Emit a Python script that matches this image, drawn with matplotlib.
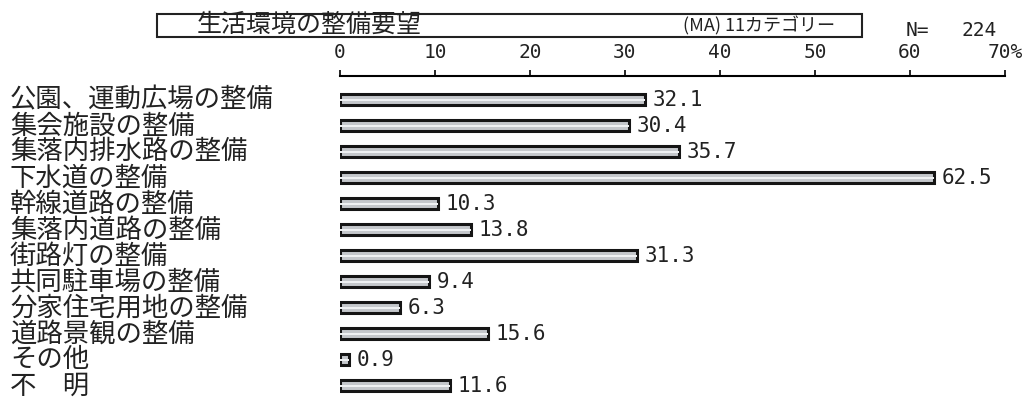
import matplotlib
matplotlib.use('Agg')
import matplotlib.pyplot as plt
from matplotlib.patches import Rectangle
from matplotlib.transforms import blended_transform_factory

plt.rcParams['font.family'] = ['Noto Sans CJK JP', 'DejaVu Sans']

categories = ['公園、運動広場の整備', '集会施設の整備', '集落内排水路の整備', '下水道の整備',
              '幹線道路の整備', '集落内道路の整備', '街路灯の整備', '共同駐車場の整備',
              '分家住宅用地の整備', '道路景観の整備', 'その他', '不　明']
values = [32.1, 30.4, 35.7, 62.5, 10.3, 13.8, 31.3, 9.4, 6.3, 15.6, 0.9, 11.6]
xticks = [0, 10, 20, 30, 40, 50, 60, 70]
xticklabels = ['0', '10', '20', '30', '40', '50', '60', '70%']

W, H = 1031, 401
fig = plt.figure(figsize=(W / 100, H / 100), dpi=100)

# axes: x=0 at px 340, x=70 at px 1005; top line at y=76
ax = fig.add_axes([340 / W, 1 - 400 / H, 665 / W, 324 / H])
ax.set_xlim(0, 70)
ax.set_ylim(11.54, -0.92)

rows = list(range(len(values)))
ax.barh(rows, values, height=0.42, color='#c4c7cb', edgecolor='#151515', linewidth=2.2)
ax.barh(rows, values, height=0.09, color='#eef0f2', linewidth=0)

for i, v in enumerate(values):
    ax.text(v + 0.8, i, f'{v:.1f}', va='center', ha='left', fontsize=15,
            family='DejaVu Sans Mono', color='#222')

for s in ['right', 'bottom', 'left']:
    ax.spines[s].set_visible(False)
ax.spines['top'].set_linewidth(1.5)
ax.xaxis.tick_top()
ax.set_xticks(xticks)
ax.set_xticklabels(xticklabels, family='DejaVu Sans Mono', fontsize=14, color='#222')
ax.tick_params(axis='x', direction='out', length=4, width=1.2, pad=6)
ax.set_yticks([])

trans = blended_transform_factory(fig.transFigure, ax.transData)
for i, c in enumerate(categories):
    ax.text(10 / W, i, c, transform=trans, ha='left', va='center', fontsize=19,
            color='#222', clip_on=False)

# title box
fig.patches.append(Rectangle((157 / W, 1 - 37 / H), (862 - 157) / W, 23 / H,
                             transform=fig.transFigure, fill=False,
                             edgecolor='#222', linewidth=1.5))
fig.text(197 / W, 1 - 25 / H, '生活環境の整備要望', ha='left', va='center', fontsize=18, color='#222')
fig.text(835 / W, 1 - 26 / H, '(MA) 11カテゴリー', ha='right', va='center', fontsize=13, color='#222')
fig.text(906 / W, 1 - 30 / H, 'N=', ha='left', va='center', fontsize=14,
         family='DejaVu Sans Mono', color='#222')
fig.text(997 / W, 1 - 30 / H, '224', ha='right', va='center', fontsize=14,
         family='DejaVu Sans Mono', color='#222')

fig.savefig('out.png', dpi=100)
